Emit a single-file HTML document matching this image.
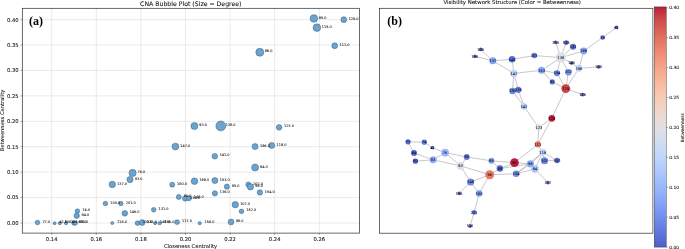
<!DOCTYPE html>
<html lang="en"><head><meta charset="utf-8"><title>CNA figure</title>
<style>html,body{margin:0;padding:0;background:#fff;}body{width:685px;height:249px;overflow:hidden;}svg{display:block;}text{font-family:"DejaVu Sans","Liberation Sans",sans-serif;fill:#111;stroke:#111;stroke-width:0.07px;}.tk{font-size:5.25px;}.lab{font-size:3.45px;fill:#000;stroke:#000;stroke-width:0.06px;}.nl{font-size:3.5px;fill:#000;stroke:#000;stroke-width:0.1px;text-anchor:middle;}.cb{font-size:4.4px;}  .pl{stroke:none;font-family:"Liberation Serif","DejaVu Serif",serif;font-weight:bold;font-size:12px;fill:#000;}</style></head><body>
<svg width="685" height="249" viewBox="0 0 685 249">
<rect width="685" height="249" fill="#fff"/>
<defs><linearGradient id="cw" x1="0" y1="1" x2="0" y2="0">
<stop offset="0.0000" stop-color="#4e5ec6"/>
<stop offset="0.0312" stop-color="#576bd1"/>
<stop offset="0.0625" stop-color="#5f77db"/>
<stop offset="0.0938" stop-color="#6883e4"/>
<stop offset="0.1250" stop-color="#728fec"/>
<stop offset="0.1562" stop-color="#7b9af3"/>
<stop offset="0.1875" stop-color="#85a4f8"/>
<stop offset="0.2188" stop-color="#8faffc"/>
<stop offset="0.2500" stop-color="#99b8fe"/>
<stop offset="0.2812" stop-color="#a3c0ff"/>
<stop offset="0.3125" stop-color="#adc8ff"/>
<stop offset="0.3438" stop-color="#b5cefd"/>
<stop offset="0.3750" stop-color="#c0d5f9"/>
<stop offset="0.4062" stop-color="#c9d9f5"/>
<stop offset="0.4375" stop-color="#d1ddef"/>
<stop offset="0.4688" stop-color="#d8dfe9"/>
<stop offset="0.5000" stop-color="#e1e0df"/>
<stop offset="0.5312" stop-color="#e8dcd5"/>
<stop offset="0.5625" stop-color="#eed7ca"/>
<stop offset="0.5938" stop-color="#f3d1bf"/>
<stop offset="0.6250" stop-color="#f6cab4"/>
<stop offset="0.6562" stop-color="#f8c1a9"/>
<stop offset="0.6875" stop-color="#f8b99f"/>
<stop offset="0.7188" stop-color="#f7ae92"/>
<stop offset="0.7500" stop-color="#f5a387"/>
<stop offset="0.7812" stop-color="#f2977c"/>
<stop offset="0.8125" stop-color="#ed8a71"/>
<stop offset="0.8438" stop-color="#e77d67"/>
<stop offset="0.8750" stop-color="#e06f5d"/>
<stop offset="0.9062" stop-color="#d85f54"/>
<stop offset="0.9375" stop-color="#d0514c"/>
<stop offset="0.9688" stop-color="#c53a43"/>
<stop offset="1.0000" stop-color="#bb1d3c"/>
</linearGradient>
<clipPath id="lc"><rect x="22.3" y="8.3" width="337.09999999999997" height="224.79999999999998"/></clipPath>
</defs>
<g stroke="#d6d6d6" stroke-width="0.5" fill="none">
<line x1="51.70" y1="8.3" x2="51.70" y2="233.1"/>
<line x1="96.30" y1="8.3" x2="96.30" y2="233.1"/>
<line x1="140.90" y1="8.3" x2="140.90" y2="233.1"/>
<line x1="185.50" y1="8.3" x2="185.50" y2="233.1"/>
<line x1="230.10" y1="8.3" x2="230.10" y2="233.1"/>
<line x1="274.70" y1="8.3" x2="274.70" y2="233.1"/>
<line x1="319.30" y1="8.3" x2="319.30" y2="233.1"/>
<line x1="22.3" y1="223.00" x2="359.4" y2="223.00"/>
<line x1="22.3" y1="197.57" x2="359.4" y2="197.57"/>
<line x1="22.3" y1="172.15" x2="359.4" y2="172.15"/>
<line x1="22.3" y1="146.73" x2="359.4" y2="146.73"/>
<line x1="22.3" y1="121.30" x2="359.4" y2="121.30"/>
<line x1="22.3" y1="95.88" x2="359.4" y2="95.88"/>
<line x1="22.3" y1="70.45" x2="359.4" y2="70.45"/>
<line x1="22.3" y1="45.03" x2="359.4" y2="45.03"/>
<line x1="22.3" y1="19.60" x2="359.4" y2="19.60"/>
</g>
<g fill="#6ea3cb" stroke="#2f5f89" stroke-width="0.5">
<circle cx="313.9" cy="18.45" r="3.80"/>
<circle cx="316.9" cy="27.65" r="3.80"/>
<circle cx="343.8" cy="19.65" r="2.90"/>
<circle cx="334.7" cy="45.75" r="2.90"/>
<circle cx="259.8" cy="52.25" r="4.00"/>
<circle cx="194.4" cy="126.05" r="3.50"/>
<circle cx="220.8" cy="125.95" r="4.90"/>
<circle cx="279.1" cy="127.35" r="2.80"/>
<circle cx="175.4" cy="146.55" r="3.40"/>
<circle cx="255.1" cy="146.55" r="3.00"/>
<circle cx="271.7" cy="145.45" r="3.00"/>
<circle cx="214.8" cy="156.25" r="2.80"/>
<circle cx="255.1" cy="167.45" r="3.50"/>
<circle cx="132.6" cy="172.95" r="3.60"/>
<circle cx="130.0" cy="179.55" r="3.10"/>
<circle cx="112.3" cy="184.45" r="3.20"/>
<circle cx="172.2" cy="184.65" r="2.50"/>
<circle cx="194.5" cy="181.20" r="3.30"/>
<circle cx="214.9" cy="180.55" r="3.00"/>
<circle cx="226.9" cy="186.65" r="2.60"/>
<circle cx="248.3" cy="184.45" r="2.50"/>
<circle cx="250.4" cy="186.75" r="3.20"/>
<circle cx="259.9" cy="192.45" r="2.70"/>
<circle cx="214.9" cy="193.35" r="2.60"/>
<circle cx="178.8" cy="196.95" r="2.50"/>
<circle cx="185.2" cy="198.45" r="2.70"/>
<circle cx="188.9" cy="198.25" r="2.50"/>
<circle cx="105.4" cy="203.55" r="2.30"/>
<circle cx="120.9" cy="203.55" r="2.20"/>
<circle cx="235.3" cy="204.65" r="3.20"/>
<circle cx="153.7" cy="209.75" r="2.30"/>
<circle cx="77.4" cy="211.15" r="2.30"/>
<circle cx="241.5" cy="211.35" r="2.30"/>
<circle cx="124.8" cy="213.35" r="2.80"/>
<circle cx="76.7" cy="215.75" r="2.70"/>
<circle cx="37.5" cy="222.55" r="2.30"/>
<circle cx="54.6" cy="223.15" r="1.50"/>
<circle cx="59.8" cy="223.15" r="1.60"/>
<circle cx="66.0" cy="223.15" r="1.60"/>
<circle cx="73.9" cy="223.15" r="2.10"/>
<circle cx="75.3" cy="223.15" r="2.10"/>
<circle cx="112.3" cy="223.05" r="1.50"/>
<circle cx="137.5" cy="223.15" r="2.30"/>
<circle cx="142.1" cy="222.55" r="2.90"/>
<circle cx="155.1" cy="223.15" r="1.50"/>
<circle cx="159.6" cy="223.15" r="1.70"/>
<circle cx="177.1" cy="222.15" r="2.40"/>
<circle cx="199.7" cy="223.15" r="1.60"/>
<circle cx="231.0" cy="221.95" r="2.90"/>
</g>
<g class="lab">
<text x="318.8" y="18.55">95.0</text>
<text x="321.8" y="27.75">115.0</text>
<text x="348.7" y="19.75">128.0</text>
<text x="339.6" y="45.85">111.0</text>
<text x="264.7" y="52.35">99.0</text>
<text x="199.3" y="126.15">93.0</text>
<text x="225.7" y="126.05">138.0</text>
<text x="284.0" y="127.45">123.0</text>
<text x="180.3" y="146.65">147.0</text>
<text x="260.0" y="146.65">196.0</text>
<text x="276.6" y="145.55">119.0</text>
<text x="219.7" y="156.35">141.0</text>
<text x="260.0" y="167.55">94.0</text>
<text x="137.5" y="173.05">76.0</text>
<text x="134.9" y="179.65">83.0</text>
<text x="117.2" y="184.55">137.0</text>
<text x="177.1" y="184.75">180.0</text>
<text x="199.4" y="181.30">199.0</text>
<text x="219.8" y="180.65">153.0</text>
<text x="231.8" y="186.75">85.0</text>
<text x="253.2" y="184.55">202.0</text>
<text x="255.3" y="186.85">96.0</text>
<text x="264.8" y="192.55">154.0</text>
<text x="219.8" y="193.45">136.0</text>
<text x="183.7" y="197.05">80.0</text>
<text x="190.1" y="198.55">134.0</text>
<text x="193.8" y="198.35">148.0</text>
<text x="110.3" y="203.65">100.0</text>
<text x="125.8" y="203.65">201.0</text>
<text x="240.2" y="204.75">107.0</text>
<text x="158.6" y="209.85">131.0</text>
<text x="82.3" y="211.25">74.0</text>
<text x="246.4" y="211.45">152.0</text>
<text x="129.7" y="213.45">146.0</text>
<text x="81.6" y="215.85">84.0</text>
<text x="42.4" y="222.65">77.0</text>
<text x="59.5" y="223.25">41.0</text>
<text x="64.7" y="223.25">106.0</text>
<text x="70.9" y="223.25">109.0</text>
<text x="78.8" y="223.25">61.0</text>
<text x="80.2" y="223.25">78.0</text>
<text x="117.2" y="223.15">116.0</text>
<text x="142.4" y="223.25">200.0</text>
<text x="147.0" y="222.65">133.0</text>
<text x="160.0" y="223.25">149.0</text>
<text x="164.5" y="223.25">150.0</text>
<text x="182.0" y="222.25">117.0</text>
<text x="204.6" y="223.25">156.0</text>
<text x="235.9" y="222.05">98.0</text>
</g>
<rect x="22.3" y="8.3" width="337.10" height="224.80" fill="none" stroke="#2a2a2a" stroke-width="0.7"/>
<g stroke="#2a2a2a" stroke-width="0.4">
<line x1="51.70" y1="233.1" x2="51.70" y2="234.9"/>
<line x1="96.30" y1="233.1" x2="96.30" y2="234.9"/>
<line x1="140.90" y1="233.1" x2="140.90" y2="234.9"/>
<line x1="185.50" y1="233.1" x2="185.50" y2="234.9"/>
<line x1="230.10" y1="233.1" x2="230.10" y2="234.9"/>
<line x1="274.70" y1="233.1" x2="274.70" y2="234.9"/>
<line x1="319.30" y1="233.1" x2="319.30" y2="234.9"/>
<line x1="20.5" y1="223.00" x2="22.3" y2="223.00"/>
<line x1="20.5" y1="197.57" x2="22.3" y2="197.57"/>
<line x1="20.5" y1="172.15" x2="22.3" y2="172.15"/>
<line x1="20.5" y1="146.73" x2="22.3" y2="146.73"/>
<line x1="20.5" y1="121.30" x2="22.3" y2="121.30"/>
<line x1="20.5" y1="95.88" x2="22.3" y2="95.88"/>
<line x1="20.5" y1="70.45" x2="22.3" y2="70.45"/>
<line x1="20.5" y1="45.03" x2="22.3" y2="45.03"/>
<line x1="20.5" y1="19.60" x2="22.3" y2="19.60"/>
</g>
<g class="tk">
<text x="51.70" y="241.0" text-anchor="middle">0.14</text>
<text x="96.30" y="241.0" text-anchor="middle">0.16</text>
<text x="140.90" y="241.0" text-anchor="middle">0.18</text>
<text x="185.50" y="241.0" text-anchor="middle">0.20</text>
<text x="230.10" y="241.0" text-anchor="middle">0.22</text>
<text x="274.70" y="241.0" text-anchor="middle">0.24</text>
<text x="319.30" y="241.0" text-anchor="middle">0.26</text>
<text x="18.70" y="224.90" text-anchor="end">0.00</text>
<text x="18.70" y="199.47" text-anchor="end">0.05</text>
<text x="18.70" y="174.05" text-anchor="end">0.10</text>
<text x="18.70" y="148.63" text-anchor="end">0.15</text>
<text x="18.70" y="123.20" text-anchor="end">0.20</text>
<text x="18.70" y="97.78" text-anchor="end">0.25</text>
<text x="18.70" y="72.35" text-anchor="end">0.30</text>
<text x="18.70" y="46.93" text-anchor="end">0.35</text>
<text x="18.70" y="21.50" text-anchor="end">0.40</text>
</g>
<text x="190.8" y="5.75" text-anchor="middle" style="font-size:6.2px">CNA Bubble Plot (Size = Degree)</text>
<text x="190.5" y="247.8" text-anchor="middle" style="font-size:5.2px">Closeness Centrality</text>
<text transform="translate(4.0,120.5) rotate(-90)" text-anchor="middle" style="font-size:5.2px">Betweenness Centrality</text>
<text class="pl" x="29.1" y="24.9">(a)</text>
<g stroke="#7a7a7a" stroke-width="0.42">
<line x1="480.6" y1="49.4" x2="492.8" y2="60.8"/>
<line x1="474.9" y1="56.3" x2="492.8" y2="60.8"/>
<line x1="492.8" y1="60.8" x2="512.1" y2="59.3"/>
<line x1="512.1" y1="59.3" x2="534.3" y2="55.5"/>
<line x1="534.3" y1="55.5" x2="560.8" y2="57.6"/>
<line x1="492.8" y1="60.8" x2="513.9" y2="73.4"/>
<line x1="512.1" y1="59.3" x2="513.9" y2="73.4"/>
<line x1="513.9" y1="73.4" x2="541.6" y2="70.3"/>
<line x1="541.6" y1="70.3" x2="560.8" y2="57.6"/>
<line x1="560.8" y1="57.6" x2="555.6" y2="42.3"/>
<line x1="560.8" y1="57.6" x2="566.2" y2="42.6"/>
<line x1="560.8" y1="57.6" x2="573.1" y2="46.8"/>
<line x1="560.8" y1="57.6" x2="583.7" y2="51.0"/>
<line x1="583.7" y1="51.0" x2="602.6" y2="37.6"/>
<line x1="602.6" y1="37.6" x2="616.5" y2="27.4"/>
<line x1="583.7" y1="51.0" x2="579.0" y2="68.3"/>
<line x1="560.8" y1="57.6" x2="571.5" y2="63.0"/>
<line x1="571.5" y1="63.0" x2="579.0" y2="68.3"/>
<line x1="579.0" y1="68.3" x2="598.7" y2="66.9"/>
<line x1="560.8" y1="57.6" x2="557.0" y2="73.2"/>
<line x1="560.8" y1="57.6" x2="568.4" y2="72.2"/>
<line x1="541.6" y1="70.3" x2="557.0" y2="73.2"/>
<line x1="541.6" y1="70.3" x2="552.3" y2="81.9"/>
<line x1="552.3" y1="81.9" x2="565.8" y2="88.6"/>
<line x1="557.0" y1="73.2" x2="565.8" y2="88.6"/>
<line x1="568.4" y1="72.2" x2="565.8" y2="88.6"/>
<line x1="579.0" y1="68.3" x2="565.8" y2="88.6"/>
<line x1="565.8" y1="88.6" x2="582.6" y2="94.6"/>
<line x1="565.8" y1="88.6" x2="551.8" y2="118.3"/>
<line x1="513.9" y1="73.4" x2="512.5" y2="91.0"/>
<line x1="513.9" y1="73.4" x2="518.3" y2="89.9"/>
<line x1="512.5" y1="91.0" x2="524.0" y2="106.4"/>
<line x1="518.3" y1="89.9" x2="524.0" y2="106.4"/>
<line x1="524.0" y1="106.4" x2="538.8" y2="127.6"/>
<line x1="538.8" y1="127.6" x2="551.8" y2="118.3"/>
<line x1="538.8" y1="127.6" x2="537.8" y2="144.4"/>
<line x1="551.8" y1="118.3" x2="537.8" y2="144.4"/>
<line x1="537.8" y1="144.4" x2="542.8" y2="152.3"/>
<line x1="537.8" y1="144.4" x2="514.5" y2="162.7"/>
<line x1="542.8" y1="152.3" x2="530.4" y2="163.8"/>
<line x1="542.8" y1="152.3" x2="535.0" y2="168.9"/>
<line x1="542.8" y1="152.3" x2="544.5" y2="160.7"/>
<line x1="542.8" y1="152.3" x2="557.1" y2="160.5"/>
<line x1="544.5" y1="160.7" x2="557.1" y2="160.5"/>
<line x1="514.5" y1="162.7" x2="530.4" y2="163.8"/>
<line x1="530.4" y1="163.8" x2="535.0" y2="168.9"/>
<line x1="535.0" y1="168.9" x2="547.9" y2="182.6"/>
<line x1="535.0" y1="168.9" x2="516.2" y2="173.8"/>
<line x1="530.4" y1="163.8" x2="516.2" y2="173.8"/>
<line x1="516.2" y1="173.8" x2="489.7" y2="174.7"/>
<line x1="489.7" y1="174.7" x2="499.9" y2="168.6"/>
<line x1="499.9" y1="168.6" x2="514.5" y2="162.7"/>
<line x1="499.9" y1="168.6" x2="491.4" y2="160.8"/>
<line x1="491.4" y1="160.8" x2="514.5" y2="162.7"/>
<line x1="491.4" y1="160.8" x2="466.7" y2="157.0"/>
<line x1="466.7" y1="157.0" x2="445.1" y2="152.6"/>
<line x1="466.7" y1="157.0" x2="460.6" y2="165.9"/>
<line x1="445.1" y1="152.6" x2="460.6" y2="165.9"/>
<line x1="445.1" y1="152.6" x2="433.1" y2="159.8"/>
<line x1="433.1" y1="159.8" x2="414.0" y2="153.0"/>
<line x1="433.1" y1="159.8" x2="415.4" y2="161.2"/>
<line x1="414.0" y1="153.0" x2="408.0" y2="141.8"/>
<line x1="408.0" y1="141.8" x2="424.3" y2="142.2"/>
<line x1="424.3" y1="142.2" x2="432.5" y2="147.8"/>
<line x1="432.5" y1="147.8" x2="445.1" y2="152.6"/>
<line x1="460.6" y1="165.9" x2="489.7" y2="174.7"/>
<line x1="460.6" y1="165.9" x2="470.6" y2="182.0"/>
<line x1="470.6" y1="182.0" x2="489.7" y2="174.7"/>
<line x1="470.6" y1="182.0" x2="459.2" y2="193.3"/>
<line x1="470.6" y1="182.0" x2="479.1" y2="193.6"/>
<line x1="479.1" y1="193.6" x2="489.7" y2="174.7"/>
<line x1="479.1" y1="193.6" x2="474.2" y2="212.4"/>
<line x1="474.2" y1="212.4" x2="470.0" y2="226.1"/>
<line x1="433.1" y1="159.8" x2="460.6" y2="165.9"/>
<line x1="499.9" y1="168.6" x2="530.4" y2="163.8"/>
<line x1="542.8" y1="152.3" x2="516.2" y2="173.8"/>
</g>
<g>
<circle cx="480.6" cy="49.4" r="1.80" fill="#4e5ec6"/>
<circle cx="474.9" cy="56.3" r="1.80" fill="#4e5ec6"/>
<circle cx="492.8" cy="60.8" r="3.55" fill="#85a4f8"/>
<circle cx="512.1" cy="59.3" r="3.25" fill="#5a6fd5"/>
<circle cx="534.3" cy="55.5" r="2.75" fill="#637bdf"/>
<circle cx="560.8" cy="57.6" r="5.00" fill="#d9dfe8"/>
<circle cx="555.6" cy="42.3" r="1.80" fill="#4e5ec6"/>
<circle cx="566.2" cy="42.6" r="2.40" fill="#4f60c8"/>
<circle cx="573.1" cy="46.8" r="2.95" fill="#5567cf"/>
<circle cx="583.7" cy="51.0" r="3.45" fill="#84a3f7"/>
<circle cx="602.6" cy="37.6" r="2.25" fill="#5b71d6"/>
<circle cx="616.5" cy="27.4" r="1.85" fill="#4e5ec6"/>
<circle cx="571.5" cy="63.0" r="1.85" fill="#4e5ec6"/>
<circle cx="579.0" cy="68.3" r="3.45" fill="#bfd4fa"/>
<circle cx="598.7" cy="66.9" r="1.80" fill="#4e5ec6"/>
<circle cx="541.6" cy="70.3" r="3.55" fill="#86a6f8"/>
<circle cx="557.0" cy="73.2" r="3.05" fill="#6984e5"/>
<circle cx="568.4" cy="72.2" r="3.25" fill="#7694ef"/>
<circle cx="552.3" cy="81.9" r="2.55" fill="#5e75da"/>
<circle cx="565.8" cy="88.6" r="4.45" fill="#ca4547"/>
<circle cx="582.6" cy="94.6" r="1.95" fill="#4e5ec6"/>
<circle cx="513.9" cy="73.4" r="3.75" fill="#bfd4fa"/>
<circle cx="512.5" cy="91.0" r="3.25" fill="#6d89e8"/>
<circle cx="518.3" cy="89.9" r="3.05" fill="#637bdf"/>
<circle cx="524.0" cy="106.4" r="3.25" fill="#afcafe"/>
<circle cx="551.8" cy="118.3" r="3.35" fill="#bb1d3c"/>
<circle cx="538.8" cy="127.6" r="3.25" fill="#d8dfe9"/>
<circle cx="537.8" cy="144.4" r="3.05" fill="#e27260"/>
<circle cx="542.8" cy="152.3" r="3.45" fill="#c1d5f9"/>
<circle cx="514.5" cy="162.7" r="4.35" fill="#bb1d3c"/>
<circle cx="491.4" cy="160.8" r="3.05" fill="#7f9ef5"/>
<circle cx="499.9" cy="168.6" r="3.25" fill="#5567cf"/>
<circle cx="530.4" cy="163.8" r="3.65" fill="#8babfa"/>
<circle cx="544.5" cy="160.7" r="3.55" fill="#6b86e6"/>
<circle cx="557.1" cy="160.5" r="2.65" fill="#5669d0"/>
<circle cx="535.0" cy="168.9" r="3.75" fill="#a8c4ff"/>
<circle cx="489.7" cy="174.7" r="4.55" fill="#e67b66"/>
<circle cx="516.2" cy="173.8" r="3.25" fill="#6d89e8"/>
<circle cx="547.9" cy="182.6" r="1.85" fill="#4e5ec6"/>
<circle cx="408.0" cy="141.8" r="2.65" fill="#586cd3"/>
<circle cx="424.3" cy="142.2" r="2.65" fill="#637bdf"/>
<circle cx="432.5" cy="147.8" r="1.80" fill="#4e5ec6"/>
<circle cx="445.1" cy="152.6" r="3.95" fill="#96b6fd"/>
<circle cx="414.0" cy="153.0" r="3.05" fill="#5567cf"/>
<circle cx="415.4" cy="161.2" r="2.65" fill="#5366cd"/>
<circle cx="433.1" cy="159.8" r="3.55" fill="#8babfa"/>
<circle cx="466.7" cy="157.0" r="2.95" fill="#637bdf"/>
<circle cx="460.6" cy="165.9" r="3.85" fill="#d9dfe8"/>
<circle cx="470.6" cy="182.0" r="3.55" fill="#6d89e8"/>
<circle cx="459.2" cy="193.3" r="1.80" fill="#4e5ec6"/>
<circle cx="479.1" cy="193.6" r="3.25" fill="#7c9bf3"/>
<circle cx="474.2" cy="212.4" r="2.45" fill="#637bdf"/>
<circle cx="470.0" cy="226.1" r="1.95" fill="#4e5ec6"/>
</g>
<g class="nl">
<text x="480.6" y="50.6">109</text>
<text x="474.9" y="57.5">106</text>
<text x="492.8" y="62.0">137</text>
<text x="512.1" y="60.5">146</text>
<text x="534.3" y="56.7">201</text>
<text x="560.8" y="58.8">138</text>
<text x="555.6" y="43.5">200</text>
<text x="566.2" y="43.8">133</text>
<text x="573.1" y="48.0">131</text>
<text x="583.7" y="52.2">199</text>
<text x="602.6" y="38.8">78</text>
<text x="616.5" y="28.6">61</text>
<text x="571.5" y="64.2">149</text>
<text x="579.0" y="69.5">196</text>
<text x="598.7" y="68.1">150</text>
<text x="541.6" y="71.5">153</text>
<text x="557.0" y="74.4">154</text>
<text x="568.4" y="73.4">202</text>
<text x="552.3" y="83.1">85</text>
<text x="565.8" y="89.8">115</text>
<text x="582.6" y="95.8">116</text>
<text x="513.9" y="74.6">147</text>
<text x="512.5" y="92.2">180</text>
<text x="518.3" y="91.1">136</text>
<text x="524.0" y="107.6">141</text>
<text x="551.8" y="119.5">128</text>
<text x="538.8" y="128.8">123</text>
<text x="537.8" y="145.6">111</text>
<text x="542.8" y="153.5">119</text>
<text x="514.5" y="163.9">95</text>
<text x="491.4" y="162.0">85</text>
<text x="499.9" y="169.8">98</text>
<text x="530.4" y="165.0">96</text>
<text x="544.5" y="161.9">107</text>
<text x="557.1" y="161.7">152</text>
<text x="535.0" y="170.1">94</text>
<text x="489.7" y="175.9">99</text>
<text x="516.2" y="175.0">134</text>
<text x="547.9" y="183.8">117</text>
<text x="408.0" y="143.0">77</text>
<text x="424.3" y="143.4">74</text>
<text x="432.5" y="149.0">41</text>
<text x="445.1" y="153.8">76</text>
<text x="414.0" y="154.2">84</text>
<text x="415.4" y="162.4">80</text>
<text x="433.1" y="161.0">83</text>
<text x="466.7" y="158.2">80</text>
<text x="460.6" y="167.1">93</text>
<text x="470.6" y="183.2">148</text>
<text x="459.2" y="194.5">156</text>
<text x="479.1" y="194.8">100</text>
<text x="474.2" y="213.6">201</text>
<text x="470.0" y="227.3">116</text>
</g>
<rect x="379.5" y="8.3" width="273.40" height="224.90" fill="none" stroke="#2a2a2a" stroke-width="0.7"/>
<text x="512.2" y="3.7" text-anchor="middle" style="font-size:5.4px">Visibility Network Structure (Color = Betweenness)</text>
<text class="pl" x="387.3" y="25.3">(b)</text>
<rect x="654.2" y="6.9" width="12.00" height="240.20" fill="url(#cw)" stroke="#2a2a2a" stroke-width="0.4"/>
<g stroke="#2a2a2a" stroke-width="0.4">
<line x1="666.2" y1="247.00" x2="667.8000000000001" y2="247.00"/>
<line x1="666.2" y1="217.10" x2="667.8000000000001" y2="217.10"/>
<line x1="666.2" y1="187.20" x2="667.8000000000001" y2="187.20"/>
<line x1="666.2" y1="157.30" x2="667.8000000000001" y2="157.30"/>
<line x1="666.2" y1="127.40" x2="667.8000000000001" y2="127.40"/>
<line x1="666.2" y1="97.50" x2="667.8000000000001" y2="97.50"/>
<line x1="666.2" y1="67.60" x2="667.8000000000001" y2="67.60"/>
<line x1="666.2" y1="37.70" x2="667.8000000000001" y2="37.70"/>
<line x1="666.2" y1="7.80" x2="667.8000000000001" y2="7.80"/>
</g><g class="cb">
<text x="669.2" y="248.60">0.00</text>
<text x="669.2" y="218.70">0.05</text>
<text x="669.2" y="188.80">0.10</text>
<text x="669.2" y="158.90">0.15</text>
<text x="669.2" y="129.00">0.20</text>
<text x="669.2" y="99.10">0.25</text>
<text x="669.2" y="69.20">0.30</text>
<text x="669.2" y="39.30">0.35</text>
<text x="669.2" y="9.40">0.40</text>
</g>
<text class="cb" transform="translate(683.8,127.8) rotate(-90)" text-anchor="middle">Betweenness</text>
</svg></body></html>
